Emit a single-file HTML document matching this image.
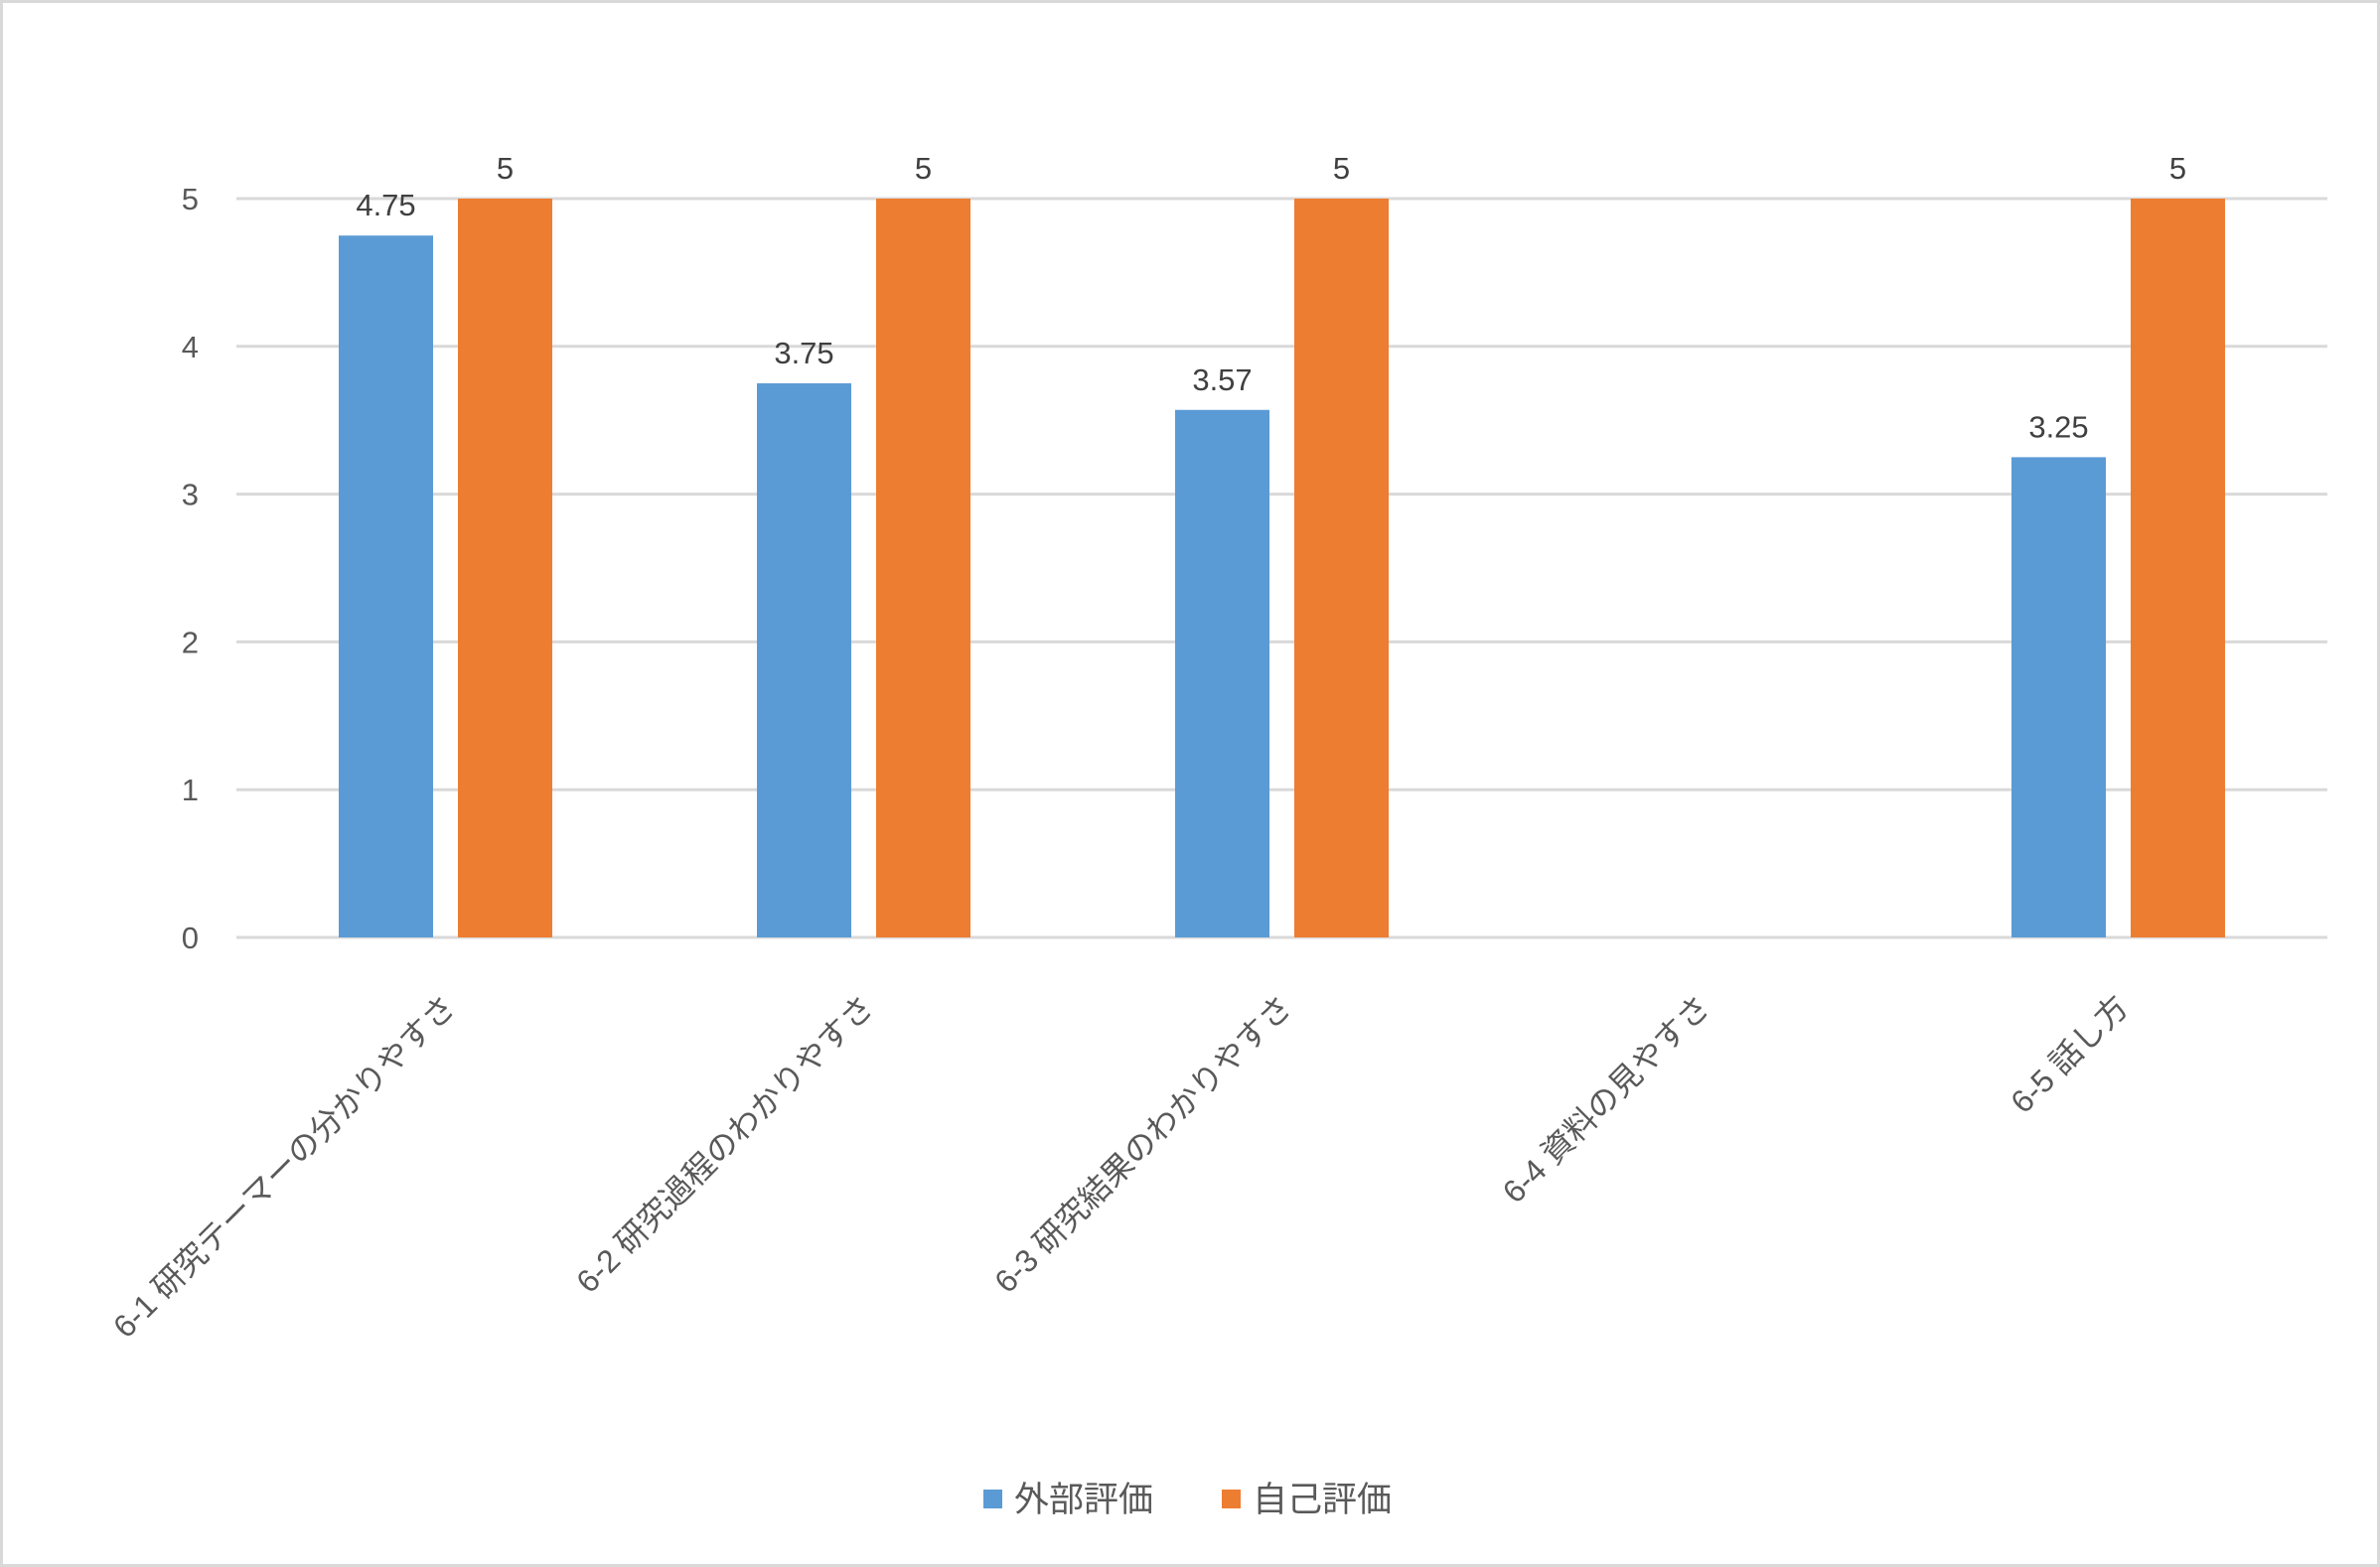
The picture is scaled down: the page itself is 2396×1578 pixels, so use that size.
<!DOCTYPE html>
<html><head><meta charset="utf-8"><style>
html,body{margin:0;padding:0;background:#fff}
svg{display:block;font-family:"Liberation Sans","Noto Sans CJK JP",sans-serif}
</style></head><body>
<svg id="chart" width="2396" height="1578" viewBox="0 0 2396 1578">
<rect x="1.5" y="1.5" width="2393" height="1575" fill="#fff" stroke="#d9d9d9" stroke-width="3"/>
<g id="grid"></g>
<g id="yticks"></g>
<g id="bars"></g>
<g id="labels"></g>
<g id="xlabels"></g>
<g>
<g>
<rect x="990" y="1500" width="19" height="19" fill="#5b9bd5"/>
<text x="1021" y="1522" font-size="35" fill="#595959">外部評価</text></g>
<g>
<rect x="1230" y="1500" width="19" height="19" fill="#ed7d31"/>
<text x="1261" y="1522" font-size="35" fill="#595959">自己評価</text></g>
</g>
</svg>
<script>
const categories=["6-1 研究テーマーの分かりやすさ","6-2 研究過程のわかりやすさ","6-3 研究結果のわかりやすさ","6-4 資料の見やすさ","6-5 話し方"];
const externalValues=[4.75,3.75,3.57,null,3.25];
const selfValues=[5,5,5,null,5];
const yTicks=[0,1,2,3,4,5];
const colors=["#5b9bd5","#ed7d31"];
const X0=238,X1=2343,Y0=944,Y5=200,YMAX=5;
const NS="http://www.w3.org/2000/svg";
const bw=(X1-X0)/categories.length;
function y(v){return Y0-(Y0-Y5)*v/YMAX;}
function cx(i){return X0+bw*(i+0.5);}
function mk(tag,attrs,parent){const e=document.createElementNS(NS,tag);for(const k in attrs)e.setAttribute(k,attrs[k]);parent.appendChild(e);return e;}
const grid=document.getElementById('grid'),yt=document.getElementById('yticks'),bars=document.getElementById('bars'),lab=document.getElementById('labels'),xl=document.getElementById('xlabels');
yTicks.forEach(t=>{
 const l=mk('line',{x1:X0,x2:X1,y1:y(t),y2:y(t),stroke:'#d9d9d9','stroke-width':3},grid);
 
 
 const tx=mk('text',{x:200,y:y(t)+11,'font-size':31,fill:'#595959','text-anchor':'end'},yt);
 tx.textContent=t;
 
 
});
const barW=95,gap=25;
[externalValues,selfValues].forEach((series,s)=>{
 series.forEach((v,i)=>{
  if(v===null)return;
  const x=cx(i)+(s===0?-(gap/2+barW):gap/2);
  const r=mk('rect',{x:x,y:y(v),width:barW,height:Y0-y(v),fill:colors[s]},bars);
  
  
  const t=mk('text',{x:x+barW/2,y:y(v)-20,'font-size':31,fill:'#404040','text-anchor':'middle'},lab);
  t.textContent=v;
  
  
 });
});
categories.forEach((c,i)=>{
 const ax=cx(i)+12,ay=1016;
 const t=mk('text',{x:ax,y:ay,'font-size':32,fill:'#595959','text-anchor':'end',transform:`rotate(-45 ${ax} ${ay})`},xl);
 t.textContent=c;
 
 
});
</script>
</body></html>
